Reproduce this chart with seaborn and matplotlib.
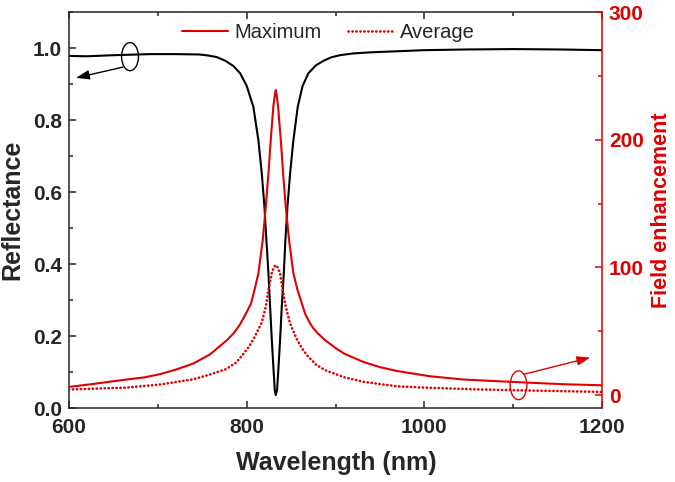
import matplotlib
matplotlib.use("Agg")
import matplotlib.pyplot as plt
from matplotlib.patches import Ellipse
from matplotlib.ticker import MultipleLocator, FormatStrFormatter
import seaborn as sns
import pandas as pd

# ---- data ----
wl_refl = [600, 620, 650, 691, 720, 747, 757, 766, 775.7, 785, 792.6, 800, 807.5,
           813.2, 817, 820, 822.2, 824.5, 826.4, 828.3, 830.5, 831.6, 832.7, 834.2,
           835.4, 837.6, 839.5, 841.8, 843.6, 845.9, 848.9, 852.6, 857.5, 863, 869.5,
           878, 887, 895, 905, 920, 940, 970, 1000, 1050, 1100, 1150, 1200]
reflectance = [0.978, 0.977, 0.980, 0.983, 0.983, 0.982, 0.979, 0.975, 0.965, 0.950,
               0.930, 0.895, 0.837, 0.744, 0.652, 0.559, 0.467, 0.374, 0.281, 0.189,
               0.096, 0.050, 0.036, 0.050, 0.096, 0.189, 0.281, 0.374, 0.467, 0.559,
               0.652, 0.744, 0.837, 0.895, 0.930, 0.952, 0.965, 0.974, 0.980, 0.985,
               0.988, 0.991, 0.994, 0.996, 0.997, 0.996, 0.994]

wl_max = [600, 627, 645, 665, 685, 702.5, 720, 740, 758.8, 777.6, 786, 793, 800, 805,
          809, 813.2, 818.1, 821.5, 824.5, 827.1, 830, 831.5, 832.7, 834, 835.4,
          838.4, 841, 844, 847.7, 852.6, 857, 862, 866, 871.4, 875, 880, 888.3, 900,
          910, 931.5, 950, 969, 1006, 1044, 1100, 1157, 1200]
fe_max = [6.5, 8.8, 10.5, 12.3, 14.0, 16.5, 20.0, 24.8, 32.0, 43.0, 49.0, 56.0, 65.0,
          72.0, 83.0, 95.4, 121.5, 147.6, 173.7, 199.8, 226.0, 234.0, 239.0, 234.0,
          226.0, 199.8, 173.7, 147.6, 121.5, 95.4, 83.0, 72.0, 63.5, 56.2, 52.5, 48.5,
          43.1, 37.0, 32.5, 26.0, 22.0, 19.0, 14.9, 12.3, 10.4, 8.6, 7.8]

wl_avg = [600, 665, 702.5, 740, 758.8, 777, 788, 796, 803, 808.5, 817, 821.5, 824.5,
          828.2, 830.5, 832.7, 835, 837.6, 840.6, 844, 848.9, 856.4, 862, 869.5, 878,
          888.3, 910, 931.5, 969, 1006, 1063, 1119, 1200]
fe_avg = [4.5, 6.0, 8.4, 12.5, 16.2, 20.5, 25.5, 32.0, 38.5, 45.0, 57.0, 69.2, 82.3,
          95.4, 100.0, 101.9, 100.0, 95.4, 82.3, 69.2, 56.2, 44.0, 37.0, 30.0, 24.0,
          19.6, 14.0, 10.5, 7.0, 5.8, 4.5, 3.7, 2.6]

series_labels = ["Maximum", "Average"]
x_label = "Wavelength (nm)"
y_label = "Reflectance"
y2_label = "Field enhancement"

RED = "#E00000"

sns.set_style("ticks")
plt.rcParams["font.family"] = ["Liberation Sans", "DejaVu Sans"]
plt.rcParams["font.weight"] = "bold"
plt.rcParams["axes.linewidth"] = 1.1

fig = plt.figure(figsize=(6.75, 4.82), dpi=100)
ax = fig.add_axes([0.1022, 0.1535, 0.7897, 0.8216])
ax2 = ax.twinx()

df_r = pd.DataFrame({"wl": wl_refl, "R": reflectance})
df_m = pd.DataFrame({"wl": wl_max, "FE": fe_max})
df_a = pd.DataFrame({"wl": wl_avg, "FE": fe_avg})

sns.lineplot(data=df_r, x="wl", y="R", ax=ax, color="black", linewidth=1.5, legend=False)
sns.lineplot(data=df_m, x="wl", y="FE", ax=ax2, color=RED, linewidth=1.5,
             label=series_labels[0], legend=False)
sns.lineplot(data=df_a, x="wl", y="FE", ax=ax2, color=RED, linewidth=1.9,
             label=series_labels[1], legend=False)
dotted = ax2.get_lines()[1]
dotted.set_linestyle((0, (0.1, 1.4)))
dotted.set_dash_capstyle("round")
for ln in ax.get_lines() + ax2.get_lines():
    ln.set_solid_joinstyle("round")

ax.set_xlim(600, 1200)
ax.set_ylim(0, 1.1)
ax2.set_ylim(-10, 300)

ax.xaxis.set_major_locator(MultipleLocator(200))
ax.xaxis.set_minor_locator(MultipleLocator(100))
ax.yaxis.set_major_locator(MultipleLocator(0.2))
ax.yaxis.set_minor_locator(MultipleLocator(0.1))
ax.yaxis.set_major_formatter(FormatStrFormatter("%.1f"))
ax2.yaxis.set_major_locator(MultipleLocator(100))
ax2.yaxis.set_minor_locator(MultipleLocator(50))

ax.tick_params(which="both", direction="in", top=True, right=False, width=1.1,
               labelsize=15)
ax.tick_params(which="major", length=5)
ax.tick_params(which="minor", length=3)
ax.tick_params(axis="x", which="major", pad=7)
ax.tick_params(axis="y", which="major", pad=5)
ax2.tick_params(which="both", direction="in", colors=RED, width=1.1, labelsize=15)
ax2.tick_params(which="major", length=5, pad=5)
ax2.tick_params(which="minor", length=3)

ax.spines["right"].set_visible(False)
for s in ["left", "top", "bottom"]:
    ax2.spines[s].set_visible(False)
ax2.spines["right"].set_color(RED)
ax2.spines["right"].set_linewidth(1.1)

ax.set_xlabel(x_label, fontsize=18, fontweight="bold")
ax.set_ylabel(y_label, fontsize=18, fontweight="bold")
ax2.set_ylabel(y2_label, fontsize=15.5, fontweight="bold", color=RED)
ax.xaxis.set_label_coords(0.501, -0.108)
ax.yaxis.set_label_coords(-0.083, 0.5)
ax2.yaxis.set_label_coords(1.092, 0.5)

# annotations
ax.add_patch(Ellipse((668.7, 0.976), 19, 0.078, fill=False, edgecolor="black", lw=1.0))
ax.annotate("", xy=(607.9, 0.917), xytext=(660.8, 0.947),
            arrowprops=dict(arrowstyle="-|>,head_length=0.8,head_width=0.28",
                            color="black", lw=1.0, shrinkA=0, shrinkB=0))
ax2.add_patch(Ellipse((1106, 7.8), 18.8, 22.5, fill=False, edgecolor=RED, lw=1.0))
ax2.annotate("", xy=(1186.7, 29.5), xytext=(1112.4, 16.5),
             arrowprops=dict(arrowstyle="-|>,head_length=0.8,head_width=0.28",
                             color=RED, lw=1.0, shrinkA=0, shrinkB=0))

handles = ax2.get_lines()[:2]
ax2.legend(handles, series_labels, loc="center", bbox_to_anchor=(0.487, 0.947),
           ncol=2, frameon=False, prop={"weight": "normal", "size": 14.5},
           handlelength=2.3, handletextpad=0.3, columnspacing=1.3)

fig.savefig("out.png", dpi=100)
